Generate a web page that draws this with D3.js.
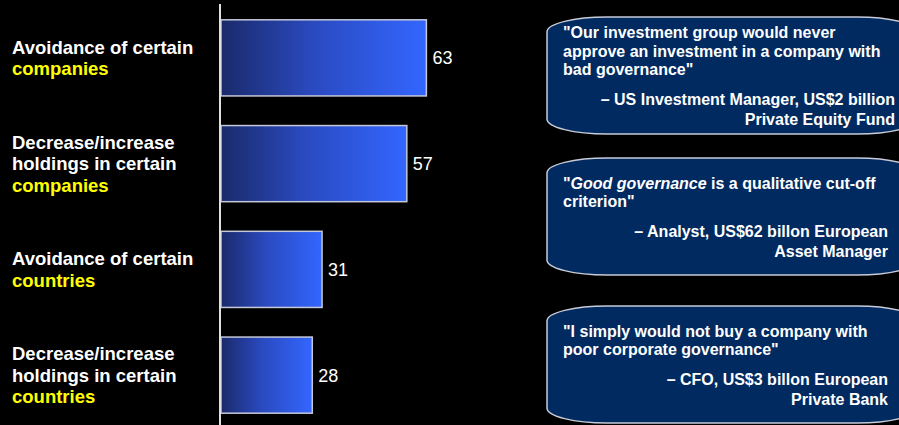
<!DOCTYPE html>
<html>
<head>
<meta charset="utf-8">
<script src="https://cdn.jsdelivr.net/npm/d3@7"></script>
<style>
  html, body { margin: 0; padding: 0; background: #000; }
  svg { display: block; }
  text { font-family: "Liberation Sans", Arial, sans-serif; }
</style>
</head>
<body>
<svg id="chart" width="899" height="425"></svg>
<script>
// Survey responses: how governance concerns affect investment behaviour
const categories = [
  "Avoidance of certain companies",
  "Decrease/increase holdings in certain companies",
  "Avoidance of certain countries",
  "Decrease/increase holdings in certain countries"
];
const labelLines = [
  ["Avoidance of certain"],
  ["Decrease/increase", "holdings in certain"],
  ["Avoidance of certain"],
  ["Decrease/increase", "holdings in certain"]
];
const highlightWords = ["companies", "companies", "countries", "countries"];
const values = [63, 57, 31, 28];

// Investor quotes shown in the call-out boxes
const quoteLines = [
  [[{t: "\"Our investment group would never"}],
   [{t: "approve an investment in a company with"}],
   [{t: "bad governance\""}]],
  [[{t: "\""}, {t: "Good governance", i: true}, {t: " is a qualitative cut-off"}],
   [{t: "criterion\""}]],
  [[{t: "\"I simply would not buy a company with"}],
   [{t: "poor corporate governance\""}]]
];
const quoteSources = [
  ["\u2013 US Investment Manager, US$2 billion", "Private Equity Fund"],
  ["\u2013 Analyst, US$62 billon European", "Asset Manager"],
  ["\u2013 CFO, US$3 billon European", "Private Bank"]
];

const svg = d3.select("#chart");

const x = d3.scaleLinear().domain([0, 100]).range([221, 547]);
const y = d3.scaleBand().domain(categories).range([5, 428])
  .paddingInner(0.28).paddingOuter(0.14);

// Horizontal gradient used by every bar
const defs = svg.append("defs");
const grad = defs.append("linearGradient").attr("id", "barGrad")
  .attr("x1", "0%").attr("x2", "100%").attr("y1", "0%").attr("y2", "0%");
grad.append("stop").attr("offset", "0%").attr("stop-color", "#1a2a6a");
grad.append("stop").attr("offset", "45%").attr("stop-color", "#2a4ac0");
grad.append("stop").attr("offset", "100%").attr("stop-color", "#3366ff");

svg.append("g").selectAll("rect")
  .data(values)
  .join("rect")
  .attr("x", x(0))
  .attr("y", (d, i) => y(categories[i]))
  .attr("width", d => x(d) - x(0))
  .attr("height", y.bandwidth())
  .attr("fill", "url(#barGrad)")
  .attr("stroke", "#c4c8d8")
  .attr("stroke-width", 1.5);

// Vertical category axis line
svg.append("line")
  .attr("x1", 220).attr("x2", 220)
  .attr("y1", 4).attr("y2", 425)
  .attr("stroke", "#e0e0e0").attr("stroke-width", 2);

// Value labels
svg.append("g").selectAll("text")
  .data(values)
  .join("text")
  .attr("x", d => x(d) + 6)
  .attr("y", (d, i) => y(categories[i]) + y.bandwidth() / 2)
  .attr("dy", "0.36em")
  .attr("fill", "#ffffff")
  .attr("font-size", 18)
  .text(d => d);

// Category labels (white lines plus a yellow keyword)
const lineH = 21.5;
categories.forEach((c, i) => {
  const lines = labelLines[i].map(t => ({t, c: "#ffffff"}))
    .concat([{t: highlightWords[i], c: "#ffff00"}]);
  const cy = y(c) + y.bandwidth() / 2;
  const first = cy - (lines.length - 1) * lineH / 2;
  const g = svg.append("text")
    .attr("x", 12)
    .attr("font-size", 18.5)
    .attr("font-weight", "bold");
  lines.forEach((l, k) => {
    g.append("tspan")
      .attr("x", 12)
      .attr("y", first + k * lineH)
      .attr("dy", "0.35em")
      .attr("fill", l.c)
      .text(l.t);
  });
});

// Quote call-out boxes, text block centred vertically in each
const boxTops = [17, 158, 306];
const boxH = 117;
const qLine = 18.5, qGap = 30, sLine = 19.5;
boxTops.forEach((top, i) => {
  const g = svg.append("g");
  g.append("rect")
    .attr("x", 547).attr("y", top)
    .attr("width", 370).attr("height", boxH)
    .attr("rx", 60).attr("ry", 15)
    .attr("fill", "#012a60")
    .attr("stroke", "#c8ccd8").attr("stroke-width", 1.5);

  const nq = quoteLines[i].length;
  const block = (nq - 1) * qLine + qGap + sLine;
  const first = top + boxH / 2 + 6 - block / 2;

  const qt = g.append("text")
    .attr("font-size", 16).attr("font-weight", "bold").attr("fill", "#ffffff");
  quoteLines[i].forEach((parts, k) => {
    parts.forEach((p, j) => {
      const ts = qt.append("tspan")
        .attr("font-style", p.i ? "italic" : "normal")
        .text(p.t);
      if (j === 0) ts.attr("x", 563).attr("y", first + k * qLine);
    });
  });

  const srcTop = first + (nq - 1) * qLine + qGap;
  const st = g.append("text")
    .attr("font-size", 16).attr("font-weight", "bold").attr("fill", "#ffffff")
    .attr("text-anchor", "end");
  quoteSources[i].forEach((s, k) => {
    st.append("tspan")
      .attr("x", i === 0 ? 895 : 888)
      .attr("y", srcTop + k * sLine)
      .text(s);
  });
});
</script>
</body>
</html>
